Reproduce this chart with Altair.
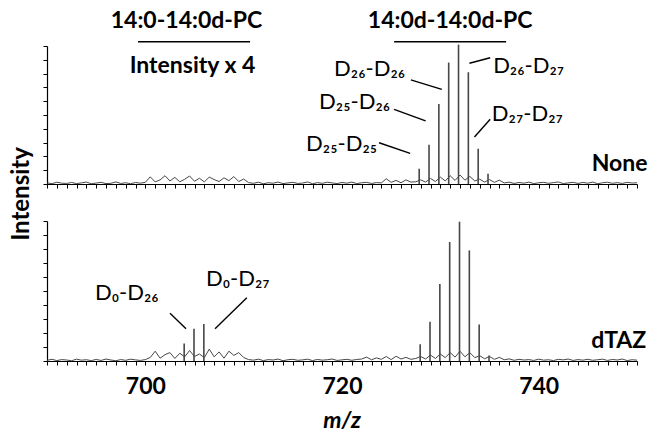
import altair as alt
import pandas as pd

# ---------------------------------------------------------------- data
# baseline noise of each spectrum, sampled every 0.5 m/z from 690 to 750
MZ_START = 690.0
MZ_STEP = 0.5

none_noise = [
    0.9, 0.2, 1.3, 0.6, 0.4, 1.1, 0.3, 0.8, 1.4, 0.2,   # 690 - 694.5
    0.7, 1.2, 0.3, 0.5, 1.5, 0.4, 0.9, 0.2, 1.1, 0.6,   # 695 - 699.5
    1.2, 5.2, 1.5, 3.0, 6.0, 2.2, 4.8, 1.6, 3.4, 5.8,   # 700 - 704.5
    2.0, 4.2, 1.5, 5.0, 3.2, 1.8, 4.5, 2.4, 5.4, 1.8,   # 705 - 709.5
    3.6, 1.0, 0.5, 1.3, 0.2, 0.9, 0.6, 1.4, 0.3, 0.8,   # 710 - 714.5
    1.2, 0.4, 0.7, 1.5, 0.2, 1.0, 0.5, 1.3, 0.8, 0.3,   # 715 - 719.5
    1.1, 0.6, 1.4, 0.3, 0.9, 1.2, 0.4, 1.0, 0.8, 3.8,   # 720 - 724.5
    1.2, 2.6, 0.9, 3.0, 1.4, 1.6, 3.0, 1.4, 4.0, 1.8,   # 725 - 729.5
    5.0, 2.2, 6.0, 2.6, 6.5, 2.8, 5.5, 2.2, 3.5, 1.4,   # 730 - 734.5
    3.2, 1.2, 2.8, 0.8, 1.3, 0.4, 1.1, 0.6, 1.4, 0.3,   # 735 - 739.5
    0.9, 1.2, 0.5, 1.0, 1.5, 0.3, 0.8, 1.2, 0.4, 1.1,   # 740 - 744.5
    0.6, 1.4, 0.2, 0.9, 1.3, 0.5, 1.0, 0.4, 1.2, 0.7,   # 745 - 749.5
    0.9,                                                # 750
]

dtaz_noise = [
    0.5, 1.2, 0.3, 1.0, 0.7, 0.2, 1.3, 0.6, 0.9, 0.3,   # 690 - 694.5
    1.1, 0.4, 1.4, 0.7, 0.2, 1.0, 0.5, 1.3, 0.8, 0.4,   # 695 - 699.5
    1.0, 2.5, 7.0, 2.0, 4.5, 6.0, 1.8, 5.5, 3.0, 7.5,   # 700 - 704.5
    3.2, 5.0, 2.4, 8.5, 3.0, 6.5, 2.0, 7.0, 4.0, 6.0,   # 705 - 709.5
    2.5, 1.0, 0.6, 1.3, 0.3, 1.0, 0.7, 1.4, 0.2, 0.9,   # 710 - 714.5
    1.2, 0.5, 0.8, 1.3, 0.3, 1.1, 0.6, 0.9, 1.4, 0.4,   # 715 - 719.5
    0.8, 1.2, 0.5, 1.1, 1.4, 2.8, 0.9, 2.2, 1.2, 3.2,   # 720 - 724.5
    1.0, 3.4, 1.4, 2.6, 1.2, 1.8, 3.2, 1.4, 4.2, 1.8,   # 725 - 729.5
    5.0, 2.4, 6.0, 2.8, 7.0, 3.0, 6.0, 2.4, 3.8, 1.6,   # 730 - 734.5
    3.2, 1.2, 2.6, 0.9, 1.5, 0.5, 1.2, 0.7, 1.0, 0.4,   # 735 - 739.5
    1.3, 0.6, 0.9, 0.3, 1.2, 0.8, 1.4, 0.4, 1.0, 0.6,   # 740 - 744.5
    1.2, 0.5, 0.9, 1.3, 0.4, 1.1, 0.7, 1.4, 0.3, 0.9,   # 745 - 749.5
    0.6,                                                # 750
]

# isotopologue peaks (m/z, relative intensity)
none_peak_mz = [727.85, 728.85, 729.85, 730.85, 731.85, 732.85, 733.85, 734.85]
none_peak_int = [11, 28.5, 58, 88, 101, 81, 25.5, 7.5]

dtaz_peak_mz = [703.95, 704.95, 705.95,
                727.95, 728.95, 729.95, 730.95, 731.95, 732.95, 733.95, 734.95]
dtaz_peak_int = [12.5, 23, 26.5,
                 12, 28, 55, 85, 99.5, 79, 26, 4]

# axis ticks
x_ticks = list(range(690, 751))
y_ticks = list(range(0, 101, 10))

# peak labels and their leader lines (m/z, intensity)
none_left_text = ["D₂₆-D₂₆", "D₂₅-D₂₆", "D₂₅-D₂₅"]
none_left_mz = [726.42, 724.89, 723.57]
none_left_int = [78.3, 54.3, 23.9]
none_right_text = ["D₂₆-D₂₇", "D₂₇-D₂₇"]
none_right_mz = [735.37, 735.24]
none_right_int = [80.4, 45.7]
none_lead_x1 = [727.0, 725.3, 723.77, 735.07, 735.07]
none_lead_y1 = [75.4, 54.1, 29.9, 91.5, 46.9]
none_lead_x2 = [730.15, 728.5, 726.93, 732.96, 733.47]
none_lead_y2 = [68.6, 45.7, 22.2, 87.5, 34.1]

dtaz_text = ["D₀-D₂₆", "D₀-D₂₇"]
dtaz_text_mz = [694.88, 706.17]
dtaz_text_int = [43.6, 53.6]
dtaz_lead_x1 = [702.51, 710.32]
dtaz_lead_y1 = [34.1, 45.2]
dtaz_lead_x2 = [704.14, 707.09]
dtaz_lead_y2 = [23.1, 23.1]

# species headers above the top spectrum
header_text = ["14:0-14:0d-PC", "14:0d-14:0d-PC", "Intensity x 4"]
header_mz = [704.19, 731.0, 704.8]
header_int = [113.3, 113.3, 80.7]
bar_x1 = [699.26, 725.3]
bar_x2 = [710.65, 736.69]
bar_y = [103.1, 103.1]

# ---------------------------------------------------------------- styling
FONT = "Lato"
INK = "#000000"
TRACE = "#474747"
W = 590

x_scale = alt.Scale(domain=[690, 750], nice=False, zero=False)
y_scale = alt.Scale(domain=[0, 100], nice=False)


def x_axis(show_labels):
    kw = dict(values=x_ticks, ticks=True, tickSize=4, tickColor=INK,
              tickWidth=1, domain=True, domainColor=INK, domainWidth=1.2,
              grid=False, title=None)
    if show_labels:
        kw.update(labels=True,
                  labelExpr="datum.value % 20 === 0 ? datum.label : ''",
                  labelFont=FONT, labelFontSize=23, labelFontWeight="bold",
                  labelColor=INK, labelPadding=10, labelOverlap=False,
                  labelFlush=False, labelBound=False)
    else:
        kw.update(labels=False)
    return alt.Axis(**kw)


Y_AXIS = alt.Axis(values=y_ticks, ticks=True, labels=False, tickSize=4,
                  tickColor=INK, tickWidth=1, domain=True, domainColor=INK,
                  domainWidth=1.2, grid=False, title=None)


def panel(noise, peak_mz, peak_int, show_labels, texts, rules, height):
    ax = x_axis(show_labels)

    def X(field):
        return alt.X(field, type="quantitative", scale=x_scale, axis=ax)

    def Y(field):
        return alt.Y(field, type="quantitative", scale=y_scale, axis=Y_AXIS)

    noise_df = pd.DataFrame({
        "mz": [MZ_START + MZ_STEP * i for i in range(len(noise))],
        "intensity": noise,
    })
    peak_df = pd.DataFrame({"mz": peak_mz, "intensity": peak_int})

    layers = [
        alt.Chart(noise_df).mark_line(color=TRACE, strokeWidth=1).encode(
            x=X("mz"), y=Y("intensity")),
        alt.Chart(peak_df).mark_rule(color=TRACE, strokeWidth=1.6).encode(
            x=X("mz"), y=Y("intensity"), y2=alt.datum(0)),
    ]
    for x1, y1, x2, y2, width in rules:
        df = pd.DataFrame({"x1": x1, "y1": y1, "x2": x2, "y2": y2})
        layers.append(
            alt.Chart(df).mark_rule(color=INK, strokeWidth=width).encode(
                x=X("x1"), y=Y("y1"), x2="x2:Q", y2="y2:Q"))
    for text, mz, inten, align, bold, size, italic in texts:
        df = pd.DataFrame({"t": text, "mz": mz, "intensity": inten})
        kw = dict(font=FONT, fontSize=size, color=INK, align=align,
                  baseline="alphabetic",
                  fontWeight="bold" if bold else "normal")
        if italic:
            kw["fontStyle"] = "italic"
        layers.append(alt.Chart(df).mark_text(**kw).encode(
            x=X("mz"), y=Y("intensity"), text="t:N"))
    return layers


# ---------------------------------------------------------------- top: None
top_layers = panel(
    none_noise, none_peak_mz, none_peak_int, False,
    texts=[
        (none_left_text, none_left_mz, none_left_int, "right", False, 22, False),
        (none_right_text, none_right_mz, none_right_int, "left", False, 22, False),
        (header_text, header_mz, header_int, "center", True, 23, False),
        (["None"], [751.07], [9.4], "right", True, 23, False),
    ],
    rules=[
        (none_lead_x1, none_lead_y1, none_lead_x2, none_lead_y2, 1.4),
        (bar_x1, bar_y, bar_x2, bar_y, 1.6),
    ],
    height=138,
)
top_layers.append(
    alt.Chart(pd.DataFrame({"t": ["Intensity"]})).mark_text(
        font=FONT, fontSize=24, fontWeight="bold", color=INK, angle=270,
        align="center", baseline="middle",
    ).encode(x=alt.value(-25), y=alt.value(148), text="t:N")
)
top = alt.layer(*top_layers).properties(width=W, height=138)

# ---------------------------------------------------------------- bottom: dTAZ
bottom_layers = panel(
    dtaz_noise, dtaz_peak_mz, dtaz_peak_int, True,
    texts=[
        (dtaz_text, dtaz_text_mz, dtaz_text_int, "left", False, 22, False),
        (["dTAZ"], [750.94], [9.3], "right", True, 23, False),
        (["m/z"], [720.0], [-47.5], "center", True, 23, True),
    ],
    rules=[
        (dtaz_lead_x1, dtaz_lead_y1, dtaz_lead_x2, dtaz_lead_y2, 1.4),
    ],
    height=140,
)
bottom = alt.layer(*bottom_layers).properties(width=W, height=140)

chart = alt.vconcat(top, bottom, spacing=37, bounds="flush").properties(
    padding={"left": 10, "top": 9, "right": 0, "bottom": 6},
    background="white",
).configure_view(strokeWidth=0)

chart.save("out.html", embed_options={"renderer": "svg", "actions": False})
